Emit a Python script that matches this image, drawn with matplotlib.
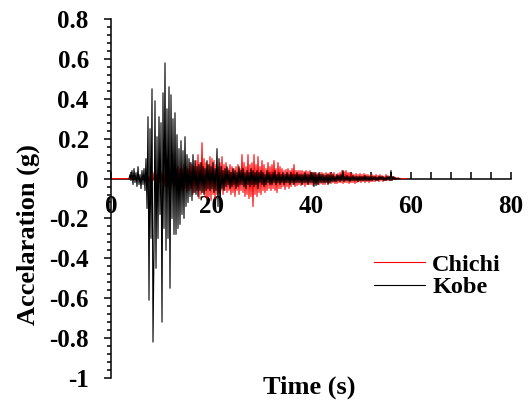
import numpy as np
import matplotlib
matplotlib.use("Agg")
import matplotlib.pyplot as plt
from matplotlib.ticker import MultipleLocator, FuncFormatter

# sampling step of the digitised records (s)
dt = 0.2

# Chichi record, starts at t = 0 s (values in g)
chichi_start = 0.0
chichi_acc = [
    0, 0, 0, 0, 0, 0, 0, 0, 0, 0,                                          # 0
    0, 0, 0, 0, 0, 0, 0, 0, 0, 0,                                          # 2
    0, 0, 0, 0, 0, 0, 0, 0, 0, 0,                                          # 4
    0, 0, 0, 0, 0, 0.01, -0.01, 0.01, -0.02, 0.01,                         # 6
    -0.02, 0.02, -0.01, 0.03, -0.02, 0.02, -0.03, 0.02, -0.02, 0.03,       # 8
    -0.02, 0.03, -0.03, 0.02, -0.04, 0.03, -0.03, 0.04, -0.02, 0.05,       # 10
    -0.04, 0.04, -0.03, 0.06, -0.04, 0.05, -0.05, 0.06, -0.04, 0.05,       # 12
    -0.06, 0.05, -0.04, 0.07, -0.05, 0.06, -0.07, 0.05, -0.06, 0.08,       # 14
    -0.05, 0.07, -0.08, 0.06, -0.07, 0.09, -0.06, 0.12, -0.10, 0.08,       # 16
    -0.08, 0.18, -0.07, 0.10, -0.09, 0.08, -0.10, 0.07, -0.09, 0.11,       # 18
    -0.11, 0.10, -0.08, 0.09, -0.10, 0.07, -0.08, 0.06, -0.07, 0.08,       # 20
    -0.06, 0.11, -0.08, 0.07, -0.06, 0.08, -0.07, 0.05, -0.06, 0.07,       # 22
    -0.08, 0.06, -0.07, 0.05, -0.09, 0.06, -0.06, 0.07, -0.08, 0.05,       # 24
    -0.06, 0.12, -0.07, 0.08, -0.09, 0.06, -0.08, 0.12, -0.10, 0.07,       # 26
    -0.09, 0.08, -0.14, 0.12, -0.08, 0.07, -0.09, 0.11, -0.07, 0.06,       # 28
    -0.08, 0.09, -0.06, 0.07, -0.07, 0.05, -0.06, 0.08, -0.05, 0.06,       # 30
    -0.06, 0.07, -0.05, 0.09, -0.06, 0.05, -0.07, 0.08, -0.05, 0.06,       # 32
    -0.05, 0.05, -0.04, 0.04, -0.055, 0.045, -0.04, 0.05, -0.05, 0.04,     # 34
    -0.04, 0.05, -0.03, 0.07, -0.04, 0.04, -0.035, 0.04, -0.03, 0.04,      # 36
    -0.035, 0.04, -0.03, 0.035, -0.04, 0.04, -0.03, 0.035, -0.03, 0.04,    # 38
    -0.03, 0.03, -0.035, 0.03, -0.025, 0.03, -0.03, 0.025, -0.03, 0.03,    # 40
    -0.025, 0.03, -0.03, 0.025, -0.03, 0.03, -0.02, 0.025, -0.025, 0.03,   # 42
    -0.025, 0.025, -0.02, 0.03, -0.025, 0.02, -0.025, 0.025, -0.02, 0.03,  # 44
    -0.02, 0.04, -0.025, 0.035, -0.02, 0.04, -0.02, 0.03, -0.025, 0.03,    # 46
    -0.02, 0.025, -0.02, 0.02, -0.025, 0.025, -0.02, 0.02, -0.015, 0.025,  # 48
    -0.02, 0.02, -0.015, 0.025, -0.02, 0.02, -0.015, 0.02, -0.02, 0.015,   # 50
    -0.015, 0.02, -0.015, 0.015, -0.015, 0.02, -0.01, 0.015, -0.015, 0.02, # 52
    -0.01, 0.015, -0.015, 0.01, -0.01, 0.02, -0.01, 0.015, -0.01, 0.01,    # 54
    -0.01, 0.01, -0.005, 0.01, -0.005, 0.005, -0.005, 0.005, 0, 0,         # 56
    0, 0, 0, 0, 0, 0,                                                      # 58
]

# Kobe record, starts at t = 3.6 s
kobe_start = 3.6
kobe_acc = [
    0, 0.02,                                                               # 3.6
    -0.01, 0.04, -0.03, 0.05, -0.02, 0.03, -0.04, 0.06, -0.03, 0.02,       # 4
    -0.05, 0.04, -0.03, 0.05, -0.06, 0.10, -0.15, 0.31, -0.61, 0.25,       # 6
    -0.30, 0.45, -0.82, -0.35, 0.39, -0.45, 0.21, -0.30, 0.31, -0.18,      # 8
    0.28, -0.72, 0.43, -0.25, 0.58, -0.36, 0.35, -0.30, 0.46, -0.55,       # 10
    0.42, -0.20, 0.30, -0.28, 0.33, -0.28, 0.22, -0.25, 0.15, -0.23,       # 12
    0.19, -0.18, 0.14, -0.20, 0.21, -0.14, 0.12, -0.12, 0.10, -0.09,       # 14
    0.08, -0.11, 0.12, -0.07, 0.09, -0.08, 0.06, -0.09, 0.07, -0.06,       # 16
    0.08, -0.07, 0.06, -0.08, 0.05, -0.06, 0.09, -0.05, 0.07, -0.06,       # 18
    0.06, -0.05, 0.08, -0.07, 0.05, -0.06, 0.15, -0.14, 0.10, -0.16,       # 20
    0.06, -0.05, 0.04, -0.06, 0.05, -0.04, 0.06, -0.03, 0.04, -0.05,       # 22
    0.03, -0.04, 0.05, -0.03, 0.04, -0.05, 0.03, -0.04, 0.06, -0.03,       # 24
    0.04, -0.03, 0.05, -0.04, 0.03, -0.05, 0.04, -0.03, 0.03, -0.04,       # 26
    0.05, -0.03, 0.04, -0.04, 0.03, -0.03, 0.04, -0.05, 0.03, -0.02,       # 28
    0.04, -0.03, 0.03, -0.04, 0.02, -0.03, 0.04, -0.02, 0.03, -0.03,       # 30
    0.02, -0.03, 0.03, -0.02, 0.04, -0.03, 0.02, -0.02, 0.03, -0.03,       # 32
    0.02, -0.02, 0.03, -0.03, 0.02, -0.02, 0.03, -0.02, 0.02, -0.03,       # 34
    0.03, -0.02, 0.02, -0.03, 0.02, -0.02, 0.03, -0.02, 0.02, -0.02,       # 36
    0.02, -0.03, 0.02, -0.02, 0.03, -0.02, 0.02, -0.03, 0.02, -0.02,       # 38
    0.03, -0.02, 0.03, -0.04, 0.03, -0.035, 0.02, -0.03, 0.03, -0.02,      # 40
    0.02, -0.02, 0.02, -0.02, 0.015, -0.02, 0.02, -0.03, 0.02, -0.02,      # 42
    0.015, -0.015, 0.02, -0.015, 0.01, -0.015, 0.02, -0.01, 0.015, -0.015, # 44
    0.02, -0.01, 0.04, -0.015, 0.01, -0.01, 0.015, -0.01, 0.01, -0.015,    # 46
    0.01, -0.01, 0.015, -0.01, 0.01, -0.01, 0.01, -0.015, 0.01, -0.01,     # 48
    0.01, -0.01, 0.01, -0.01, 0.015, -0.01, 0.01, -0.01, 0.01, -0.01,      # 50
    0.01, -0.01, 0.01, -0.005, 0.01, -0.01, 0.005, -0.01, 0.01, -0.005,    # 52
    0.01, -0.005, 0.01, -0.01, 0.005, -0.01, 0.01, -0.005, 0.01, -0.01,    # 54
    0.04, -0.01, 0.01, -0.005, 0.005, -0.005, 0, 0, 0, 0,                  # 56
]

series_names = ["Chichi", "Kobe"]
series_colors = ["#ff0000", "#000000"]

chichi_t = chichi_start + dt * np.arange(len(chichi_acc))
kobe_t = kobe_start + dt * np.arange(len(kobe_acc))

plt.rcParams["font.family"] = ["Liberation Serif", "DejaVu Serif"]
plt.rcParams["font.weight"] = "bold"

fig = plt.figure(figsize=(5.29, 4.03), dpi=100)
ax = fig.add_axes([111 / 529, 1 - 378 / 403, 400 / 529, 359 / 403])

ax.plot(chichi_t, chichi_acc, color=series_colors[0], lw=0.8, label=series_names[0])
ax.plot(kobe_t, kobe_acc, color=series_colors[1], lw=0.8, label=series_names[1])

ax.set_xlim(0, 80)
ax.set_ylim(-1, 0.8)

ax.spines["top"].set_visible(False)
ax.spines["right"].set_visible(False)
ax.spines["bottom"].set_position(("data", 0))
ax.spines["bottom"].set_zorder(0)
for s in ("left", "bottom"):
    ax.spines[s].set_linewidth(1.1)

ax.xaxis.set_major_locator(MultipleLocator(20))
ax.xaxis.set_minor_locator(MultipleLocator(4))
ax.yaxis.set_major_locator(MultipleLocator(0.2))
ax.yaxis.set_minor_locator(MultipleLocator(0.04))


def fmt(v, pos):
    v = round(v, 2)
    if v == 0:
        return "0"
    return "%g" % v


ax.yaxis.set_major_formatter(FuncFormatter(fmt))

ax.tick_params(axis="x", which="both", direction="in", width=1.1, labelsize=18, pad=12)
ax.tick_params(axis="x", which="major", length=5)
ax.tick_params(axis="x", which="minor", length=5)
ax.tick_params(axis="y", which="both", direction="out", width=1.1, labelsize=18, pad=11)
ax.tick_params(axis="y", which="major", length=5)
ax.tick_params(axis="y", which="minor", length=3)

ax.set_xlabel("Time (s)", fontsize=19, fontweight="bold")
ax.xaxis.set_label_coords(0.495, 0.008)
ax.set_ylabel("Accelaration (g)", fontsize=19, fontweight="bold")
ax.yaxis.set_label_coords(-0.178, 0.40)

ax.legend(loc="center left", bbox_to_anchor=((374 - 111) / 400, (378 - 276) / 359),
          frameon=False, fontsize=17.5, handlelength=2.1, handletextpad=0.3,
          labelspacing=0.0, borderpad=0, borderaxespad=0)

fig.savefig("out.png", dpi=100)
